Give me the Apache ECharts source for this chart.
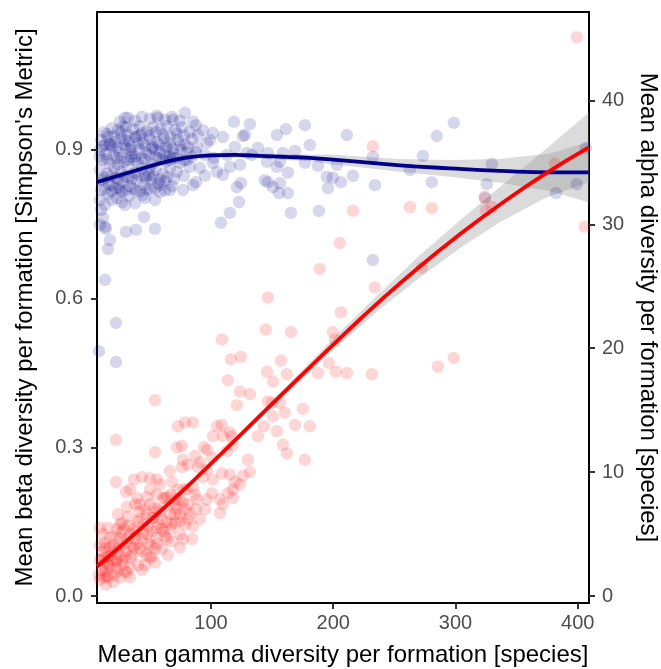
<!DOCTYPE html>
<html>
<head>
<meta charset="utf-8">
<script src="https://cdn.jsdelivr.net/npm/echarts@6/dist/echarts.min.js"></script>
<style>
html,body{margin:0;padding:0;background:#fff;}
#chart{width:661px;height:669px;}
</style>
</head>
<body>
<div id="chart"></div>
<script>
// ---- Data ----
// Beta diversity points (blue): gamma (x) and beta (left axis)
const blueGamma = [
  8.4,22.3,22.3,13.3,15.8,17.4,14.1,30.5,38.7,54.2,45.2,108.2,115.5,122.9,124.5,146.6,150.7,155.6,162.9,165.4,
  188.3,153.9,161.3,176.8,180.9,162.9,156.4,131.9,118.8,127.8,78.7,68.9,56.7,29.7,28.0,85.3,126.1,138.4,168.7,146.6,
  158.8,129.4,119.6,109.8,101.6,93.4,176.8,187.5,194.8,195.7,145.8,153.9,144.1,156.4,121.2,85.3,77.1,104.9,109.8,115.5,
  101.6,91.0,82.8,80.4,88.5,96.7,113.1,123.7,133.5,
  211.2,232.4,203.0,199.7,206.3,216.1,234.1,273.3,262.7,280.6,284.7,298.6,232.4,329.7,325.6,324.0,382.1,399.2,406.5,
  25.6,32.1,37.9,43.6,50.1,55.8,62.4,68.1,74.6,87.7,
  12.5,19.0,24.0,30.5,36.2,41.9,47.7,52.6,58.3,64.0,70.5,76.3,82.8,89.4,
  10.1,15.8,21.5,26.4,32.9,38.7,44.4,50.1,55.8,61.6,66.5,73.0,78.7,84.5,99.2,
  9.2,14.1,19.0,24.8,30.5,35.4,41.1,46.8,52.6,58.3,64.0,69.7,75.5,87.7,95.1,
  11.7,17.4,23.1,28.9,34.6,40.3,46.0,51.8,57.5,63.2,68.9,74.6,80.4,102.4,
  9.2,15.0,20.7,26.4,32.1,37.9,43.6,49.3,55.0,60.7,66.5,72.2,77.9,95.1,
  10.9,16.6,22.3,28.0,33.8,39.5,45.2,50.9,56.7,62.4,68.1,87.7,
  10.1,15.8,21.5,27.2,32.9,38.7,44.4,50.1,58.3,66.5,
  9.2,13.3,19.0,23.1,29.7,37.9,46.0,54.2,10.1,27.2,
  11.7,9.2,13.3,
  17.4,29.7,41.9,54.2,62.4,24.0,37.9,50.1,32.1,46.0,19.0,58.3,13.3,33.8,66.5,25.6,
  15.0,20.7,26.4,32.1,37.9,43.6,49.3,55.0,60.7,66.5,72.2,77.9,
  11.7,17.4,23.1,28.9,34.6,40.3,46.0,51.8,57.5,63.2,68.9,74.6,81.2,
  9.2,15.0,20.7,26.4,32.1,37.9,43.6,49.3,55.0,60.7,66.5,72.2,77.9,84.5,
  12.5,18.2,24.0,29.7,35.4,41.1,46.8,52.6,58.3,64.0,69.7,
  13.3,19.0,24.8,30.5,36.2,41.9,47.7,54.2,62.4
];
const blueBeta = [
  0.494,0.472,0.551,0.638,0.700,0.718,0.741,0.735,0.739,0.741,0.765,0.753,0.773,0.795,0.833,0.835,0.825,0.813,0.813,0.773,
  0.777,0.930,0.942,0.950,0.910,0.854,0.876,0.952,0.957,0.930,0.975,0.961,0.965,0.965,0.948,0.957,0.928,0.904,0.898,0.894,
  0.894,0.894,0.906,0.926,0.934,0.940,0.874,0.868,0.846,0.823,0.876,0.866,0.839,0.833,0.825,0.829,0.819,0.856,0.850,0.866,
  0.874,0.864,0.866,0.894,0.906,0.914,0.890,0.870,0.890,
  0.930,0.886,0.870,0.844,0.835,0.848,0.829,0.888,0.860,0.835,0.928,0.955,0.678,0.872,0.831,0.805,0.813,0.831,0.904,
  0.957,0.965,0.959,0.967,0.963,0.969,0.961,0.967,0.959,0.950,
  0.936,0.944,0.940,0.946,0.942,0.948,0.938,0.946,0.942,0.948,0.940,0.946,0.936,0.930,
  0.920,0.926,0.916,0.924,0.918,0.926,0.914,0.922,0.916,0.924,0.914,0.920,0.912,0.922,0.920,
  0.900,0.892,0.906,0.896,0.904,0.892,0.902,0.894,0.906,0.896,0.904,0.892,0.900,0.896,0.890,
  0.880,0.872,0.884,0.876,0.886,0.874,0.882,0.872,0.884,0.876,0.884,0.874,0.880,0.884,
  0.860,0.852,0.864,0.856,0.866,0.854,0.862,0.850,0.860,0.852,0.864,0.856,0.848,0.848,
  0.839,0.831,0.844,0.835,0.827,0.839,0.829,0.842,0.833,0.837,0.827,0.835,
  0.819,0.811,0.823,0.815,0.807,0.817,0.809,0.821,0.815,0.819,
  0.799,0.789,0.799,0.803,0.789,0.793,0.803,0.799,0.779,0.795,
  0.763,0.749,0.745,
  0.910,0.920,0.930,0.900,0.890,0.870,0.880,0.864,0.844,0.848,0.829,0.829,0.910,0.900,0.880,0.819,
  0.932,0.928,0.935,0.930,0.926,0.934,0.929,0.936,0.931,0.927,0.933,0.929,
  0.908,0.912,0.905,0.910,0.906,0.913,0.909,0.904,0.911,0.907,0.903,0.909,0.905,
  0.886,0.882,0.889,0.884,0.880,0.887,0.883,0.890,0.885,0.881,0.888,0.884,0.879,0.886,
  0.844,0.848,0.841,0.846,0.842,0.849,0.843,0.847,0.840,0.845,0.842,
  0.821,0.817,0.824,0.819,0.822,0.816,0.820,0.823,0.818
];

// Alpha diversity points (red): gamma (x) and alpha (right axis)
const redGamma = [
  399.2,232.4,216.1,205.4,262.7,280.6,234.1,206.3,272.5,324.0,329.7,324.8,381.2,405.7,199.7,201.4,202.2,211.2,231.6,285.6,
  298.6,189.1,146.6,144.9,165.4,109.0,116.3,124.5,157.2,145.8,162.1,150.7,113.9,123.7,131.9,187.5,196.5,149.9,175.2,180.9,
  168.7,153.9,158.8,162.1,176.8,143.3,138.4,150.7,160.5,156.4,146.6,121.2,54.2,22.3,22.3,54.2,73.0,72.2,77.1,66.5,
  37.0,43.6,50.1,55.8,30.5,68.1,76.3,78.7,85.3,104.9,109.0,115.5,76.3,96.7,113.1,118.0,86.9,100.8,130.2,131.9,
  126.1,115.5,109.0,119.6,81.2,89.4,93.4,101.6,118.0,118.0,100.8,107.3,80.4,85.3,88.5,96.7,109.8,77.1,107.3,85.3,
  77.1,51.8,29.7,15.0,101.6,94.3,109.8,117.2,123.7,113.9,91.0,96.7,
  15.8,23.1,13.3,10.9,15.8,24.0,31.3,40.3,50.1,59.9,68.1,74.6,74.6,72.2,64.8,55.8,47.7,39.5,31.3,32.1,
  27.2,46.0,56.7,64.0,48.5,37.9,29.7,21.5,19.0,27.2,35.4,43.6,55.8,62.4,21.5,59.9,70.5,52.6,36.2,15.8,
  9.2,12.5,17.4,21.5,25.6,30.5,34.6,39.5,43.6,47.7,51.8,55.8,59.9,66.5,70.5,78.7,41.9,33.8,25.6,17.4,
  11.7,9.2,19.9,25.6,33.8,46.0,54.2,66.5,78.7,82.8,41.9,50.1,58.3,33.8,24.0,11.7,9.2,14.1,8.4,
  10.9,14.1,18.2,20.7,24.8,28.0,31.3,34.6,38.7,41.9,45.2,48.5,51.8,55.0,58.3,61.6,64.8,68.1,71.4,74.6,
  77.9,81.2,13.3,17.4,28.9,40.3,50.1,62.4,73.0,33.8,43.6,54.2,64.8,74.6,84.5,91.0,95.1,86.9,
  9.2,12.5,15.8,19.9,23.1,26.4,29.7,32.9,37.0,41.1,44.4,47.7,50.9,54.2,57.5,60.7,64.0,67.3,70.5,73.8,
  12.5,22.3,46.8,81.2,87.7,37.9,25.6
];
const redAlpha = [
  45.1,36.3,31.1,28.5,31.4,31.3,24.9,22.9,26.5,32.1,31.4,31.1,34.9,29.8,21.3,20.7,18.1,18.0,17.9,18.5,
  19.2,26.4,24.1,21.5,21.3,20.7,19.1,19.3,19.0,18.1,17.9,17.3,17.4,16.5,16.3,18.0,18.8,15.6,15.1,13.7,
  13.8,13.3,12.2,11.5,11.0,13.7,12.9,14.5,14.8,15.6,15.7,15.4,15.8,12.6,9.2,11.6,13.7,12.0,11.0,10.1,
  9.4,9.6,9.5,9.4,8.4,9.2,10.4,14.0,14.0,13.7,13.8,13.2,12.1,11.8,11.7,12.2,11.3,11.2,11.0,10.0,
  9.7,9.8,9.9,9.2,10.6,10.4,9.6,9.4,8.6,7.9,8.3,7.8,8.6,8.8,7.8,7.8,7.4,7.6,6.7,5.6,
  4.6,3.2,2.0,1.6,12.9,12.0,12.9,12.9,9.0,8.3,10.8,10.2,
  5.5,5.4,4.3,2.1,1.5,2.0,1.9,2.5,3.1,3.8,4.4,5.0,6.0,7.0,8.0,8.2,8.0,7.9,7.2,6.4,
  5.9,7.0,7.0,6.0,5.6,4.6,4.2,3.8,2.9,2.9,3.3,3.6,4.2,4.8,4.8,5.4,5.9,6.3,5.4,3.2,
  2.9,2.5,2.4,2.8,3.3,3.6,4.0,4.2,4.6,5.0,5.2,5.5,6.2,6.6,7.4,7.0,6.2,5.0,4.6,3.9,
  3.6,1.3,1.1,1.5,2.3,2.5,3.8,5.4,5.8,6.6,7.4,8.6,9.0,8.6,6.6,5.0,5.5,0.9,1.7,
  2.9,2.0,3.3,1.7,3.9,2.5,4.6,3.1,5.2,3.8,5.8,4.2,6.3,4.7,6.8,5.2,7.3,5.8,7.8,6.6,
  8.6,7.4,3.9,4.7,5.4,6.0,7.4,7.9,8.6,1.5,2.1,2.7,3.3,3.9,4.6,6.2,7.0,8.2,
  4.1,3.1,2.5,4.1,2.9,5.1,3.1,5.7,3.9,6.8,5.0,6.6,4.1,7.1,5.8,7.9,4.6,8.2,6.6,7.8,
  1.5,2.3,3.3,6.2,7.0,7.4,5.8
];

// Smoothed fits with their confidence half-widths
const betaFitGamma = [6.8,25.6,41.9,58.3,78.7,99.2,119.6,140.0,160.5,180.9,197.3,221.8,254.5,295.4,336.3,377.1,409.0];
const betaFit      = [0.835,0.849,0.861,0.873,0.884,0.889,0.890,0.888,0.886,0.884,0.881,0.876,0.869,0.863,0.858,0.855,0.855];
const betaFitSE    = [0.009,0.007,0.006,0.005,0.005,0.005,0.005,0.005,0.006,0.007,0.010,0.011,0.013,0.017,0.024,0.038,0.061];

const alphaFitGamma = [6.8,41.9,77.1,107.3,140.0,172.7,205.4,238.1,270.8,303.5,336.2,373.0,409.0];
const alphaFit      = [2.38,5.38,8.51,11.38,14.53,17.68,20.80,23.80,26.60,29.19,31.58,34.05,36.21];
const alphaFitSE    = [0.35,0.24,0.22,0.22,0.27,0.33,0.50,0.66,0.90,1.12,1.42,1.95,2.80];

// Tick labels
const gammaTicks = [100, 200, 300, 400];
const betaTicks  = [0, 0.3, 0.6, 0.9];
const alphaTicks = [0, 10, 20, 30, 40];

// ---- Chart ----
const FONT = "'Liberation Sans', Arial, Helvetica, sans-serif";
const chart = echarts.init(document.getElementById('chart'), null, {renderer: 'canvas'});

function pairs(xs, ys) { return xs.map((x, i) => [x, ys[i]]); }

function bandSeries(xs, mid, se, yIdx, color) {
  return {
    type: 'custom',
    yAxisIndex: yIdx,
    silent: true,
    clip: true,
    data: xs.map((x, i) => [x, mid[i] - se[i], mid[i] + se[i]]),
    encode: {x: 0, y: [1, 2]},
    renderItem: function (params, api) {
      if (params.dataIndex !== 0) return null;
      const up = [], lo = [];
      for (let i = 0; i < xs.length; i++) {
        up.push(api.coord([xs[i], mid[i] + se[i]]));
        lo.push(api.coord([xs[i], mid[i] - se[i]]));
      }
      return {
        type: 'polygon',
        shape: {points: up.concat(lo.reverse())},
        style: {fill: color}
      };
    }
  };
}

const axisLineStyle = {color: '#000', width: 2};
const tickStyle = {color: '#333', width: 2};
const labelStyle = {color: '#4D4D4D', fontSize: 20, fontFamily: FONT};
const nameStyle = {color: '#000', fontSize: 24, fontFamily: FONT};

const option = {
  animation: false,
  backgroundColor: '#fff',
  grid: {left: 97, top: 12, width: 492, height: 591, containLabel: false, outerBoundsMode: 'none',
         show: true, borderColor: '#000', borderWidth: 2, backgroundColor: 'transparent'},
  xAxis: {
    type: 'value', min: 6.8, max: 409.2,
    name: 'Mean gamma diversity per formation [species]',
    nameLocation: 'middle', nameGap: 40, nameTextStyle: nameStyle,
    axisLine: {show: true, onZero: false, lineStyle: axisLineStyle},
    axisTick: {show: true, inside: false, length: 6, lineStyle: tickStyle, customValues: gammaTicks},
    axisLabel: Object.assign({margin: 10, customValues: gammaTicks, formatter: v => String(v)}, labelStyle),
    splitLine: {show: false}
  },
  yAxis: [
    {
      type: 'value', position: 'left', min: -0.0141, max: 1.1784,
      name: "Mean beta diversity per formation [Simpson's Metric]",
      nameLocation: 'middle', nameGap: 60, nameTextStyle: nameStyle,
      axisLine: {show: true, onZero: false, lineStyle: axisLineStyle},
      axisTick: {show: true, inside: false, length: 6, lineStyle: tickStyle, customValues: betaTicks},
      axisLabel: Object.assign({margin: 14, customValues: betaTicks, formatter: v => v.toFixed(1)}, labelStyle),
      splitLine: {show: false}
    },
    {
      type: 'value', position: 'right', min: -0.565, max: 47.135,
      name: 'Mean alpha diversity per formation [species]',
      nameLocation: 'middle', nameGap: 46, nameRotate: -90, nameTextStyle: nameStyle,
      axisLine: {show: true, onZero: false, lineStyle: axisLineStyle},
      axisTick: {show: true, inside: false, length: 6, lineStyle: tickStyle, customValues: alphaTicks},
      axisLabel: Object.assign({margin: 13, customValues: alphaTicks, formatter: v => String(v)}, labelStyle),
      splitLine: {show: false}
    }
  ],
  series: [
    {
      type: 'scatter', yAxisIndex: 0, silent: true, clip: true,
      symbol: 'circle', symbolSize: 12.5,
      itemStyle: {color: 'rgba(0,0,139,0.2)', borderWidth: 0},
      data: pairs(blueGamma, blueBeta)
    },
    bandSeries(betaFitGamma, betaFit, betaFitSE, 0, 'rgba(153,153,153,0.35)'),
    {
      type: 'line', yAxisIndex: 0, silent: true, smooth: true, showSymbol: false, symbol: 'none',
      lineStyle: {color: '#00008B', width: 3.8},
      data: pairs(betaFitGamma, betaFit)
    },
    {
      type: 'scatter', yAxisIndex: 1, silent: true, clip: true,
      symbol: 'circle', symbolSize: 12.5,
      itemStyle: {color: 'rgba(255,0,0,0.2)', borderWidth: 0},
      data: pairs(redGamma, redAlpha)
    },
    bandSeries(alphaFitGamma, alphaFit, alphaFitSE, 1, 'rgba(153,153,153,0.35)'),
    {
      type: 'line', yAxisIndex: 1, silent: true, smooth: true, showSymbol: false, symbol: 'none',
      lineStyle: {color: '#FF0000', width: 3.8},
      data: pairs(alphaFitGamma, alphaFit)
    }
  ]
};
chart.setOption(option);
</script>
</body>
</html>
